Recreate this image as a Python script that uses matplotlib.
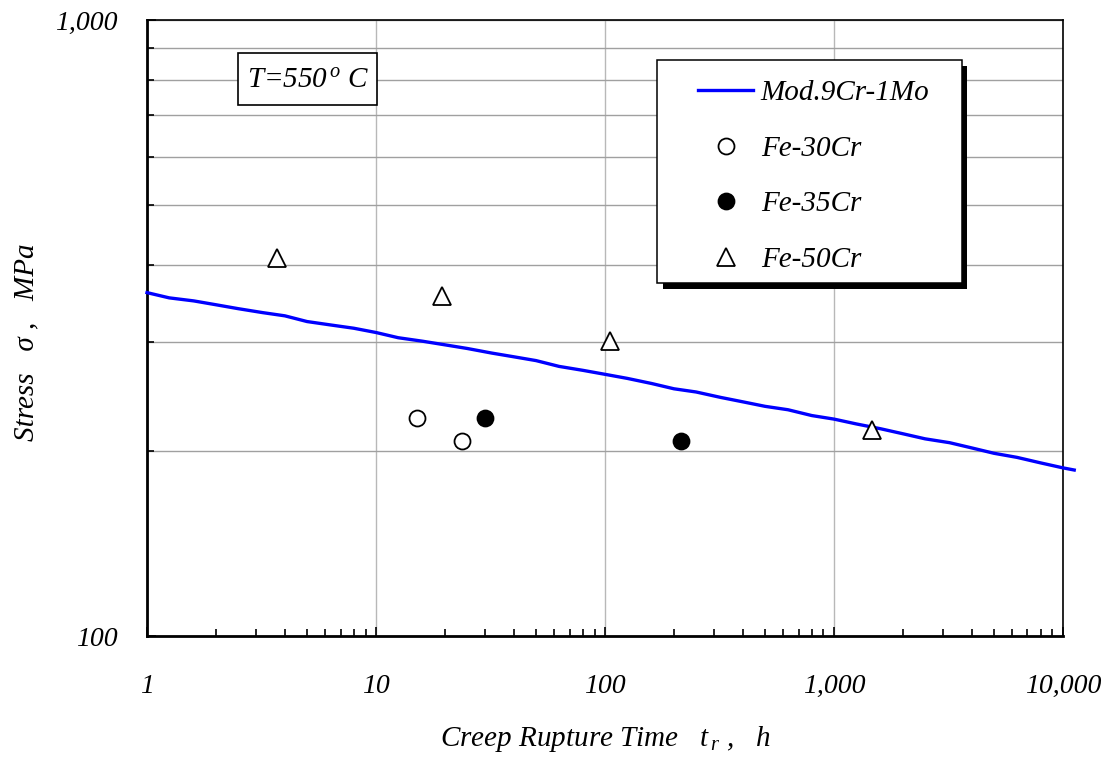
import matplotlib
matplotlib.use("Agg")
import matplotlib.pyplot as plt
import matplotlib.ticker as ticker
import matplotlib.patheffects as pe
from matplotlib.patches import Rectangle

# fonts: Times-like italic everywhere
plt.rcParams['font.family'] = ['Liberation Serif', 'DejaVu Serif']
plt.rcParams['font.style'] = 'italic'
plt.rcParams['font.size'] = 20
plt.rcParams['mathtext.fontset'] = 'custom'
plt.rcParams['mathtext.it'] = 'Liberation Serif:italic'
plt.rcParams['mathtext.rm'] = 'Liberation Serif:italic'

# ---- data ----
# Mod.9Cr-1Mo reference curve
mod_time = [1, 1.25, 1.6, 2, 2.5, 3.2, 4, 5, 6.3, 8,
            10, 12.5, 16, 20, 25, 32, 40, 50, 63, 80,
            100, 125, 160, 200, 250, 320, 400, 500, 630, 800,
            1000, 1250, 1600, 2000, 2500, 3200, 4000, 5000, 6300, 8000,
            10000, 11200]
mod_stress = [361, 354, 350, 345, 340, 335, 331, 324, 320, 316,
              311, 305, 301, 297, 293, 288, 284, 280, 274, 270,
              266, 262, 257, 252, 249, 244, 240, 236, 233, 228,
              225, 221, 217, 213, 209, 206, 202, 198, 195, 191,
              187.5, 186]

fe30_time = [15.1, 23.8]
fe30_stress = [226, 207]

fe35_time = [29.8, 214]
fe35_stress = [226, 207]

fe50_time = [3.7, 19.4, 105, 1470]
fe50_stress = [411, 357, 301, 216]

x_ticks = [1, 10, 100, 1000, 10000]
y_ticks = [100, 1000]

# ---- figure ----
fig = plt.figure(figsize=(11.12, 7.57), dpi=100)
ax = fig.add_axes([0.1322, 0.1598, 0.8237, 0.8137])

ax.set_xscale('log')
ax.set_yscale('log')
ax.set_xlim(1, 10000)
ax.set_ylim(100, 1000)

ax.plot(mod_time, mod_stress, color='#0000ff', lw=2.4, clip_on=False,
        label='Mod.9Cr-1Mo', zorder=3)
ax.plot(fe30_time, fe30_stress, ls='none', marker='o', ms=11.5, mfc='white',
        mec='black', mew=1.3, label='Fe-30Cr', zorder=4)
ax.plot(fe35_time, fe35_stress, ls='none', marker='o', ms=11.5, mfc='black',
        mec='black', mew=1.3, label='Fe-35Cr', zorder=4)
ax.plot(fe50_time, fe50_stress, ls='none', marker='^', ms=13, mfc='white',
        mec='black', mew=1.3, label='Fe-50Cr', zorder=4)

# ticks
fmt = ticker.FuncFormatter(lambda v, p: '{:,.0f}'.format(v))
ax.xaxis.set_major_locator(ticker.FixedLocator(x_ticks))
ax.yaxis.set_major_locator(ticker.FixedLocator(y_ticks))
ax.xaxis.set_major_formatter(fmt)
ax.yaxis.set_major_formatter(fmt)
ax.xaxis.set_minor_locator(ticker.LogLocator(base=10, subs=range(2, 10)))
ax.yaxis.set_minor_locator(ticker.LogLocator(base=10, subs=range(2, 10)))
ax.xaxis.set_minor_formatter(ticker.NullFormatter())
ax.yaxis.set_minor_formatter(ticker.NullFormatter())
ax.tick_params(which='major', direction='in', length=6.5, width=1.2,
               labelsize=20, top=False, right=False)
ax.tick_params(which='minor', direction='in', length=5, width=1.2,
               top=False, right=False)
ax.tick_params(axis='x', which='major', pad=27)
ax.tick_params(axis='y', which='major', pad=21)

# grid: vertical at decades, horizontal at every minor step
ax.grid(True, which='major', axis='x', color='#b8b8b8', lw=1)
ax.grid(True, which='both', axis='y', color='#a0a0a0', lw=1)
ax.set_axisbelow(True)

for s in ['left', 'bottom']:
    ax.spines[s].set_linewidth(2.0)
for s in ['top', 'right']:
    ax.spines[s].set_linewidth(1.2)

# axis labels
ax.set_xlabel(r'Creep Rupture Time   $t_{\,r}$ ,   h', fontsize=21)
ax.set_ylabel('Stress   σ ,   MPa', fontsize=21)
ax.xaxis.set_label_coords(0.5, -0.143)
ax.yaxis.set_label_coords(-0.118, 0.477)

# temperature box
ax.add_patch(Rectangle((0.0997, 0.862), 0.1517, 0.084, transform=ax.transAxes,
                       facecolor='white', edgecolor='black', lw=1.2, zorder=4))
ax.text(0.1755, 0.902, 'T=550$^{\\,o}$ C', transform=ax.transAxes,
        ha='center', va='center', fontsize=21, zorder=5)

# legend with a hard black drop shadow
frame = Rectangle((0.5568, 0.573), 0.3329, 0.362, transform=ax.transAxes,
                  facecolor='white', edgecolor='black', lw=1.1, zorder=4)
frame.set_path_effects([pe.SimplePatchShadow(offset=(4, -4), shadow_rgbFace='black',
                                             alpha=1.0), pe.Normal()])
ax.add_patch(frame)
leg = ax.legend(loc='upper left', bbox_to_anchor=(0.6015, 0.903), frameon=False,
                borderpad=0, borderaxespad=0, handlelength=1.9, handletextpad=0.25,
                labelspacing=1.0, fontsize=21)
leg.set_zorder(5)

fig.savefig('out.png', dpi=100, facecolor='white')
